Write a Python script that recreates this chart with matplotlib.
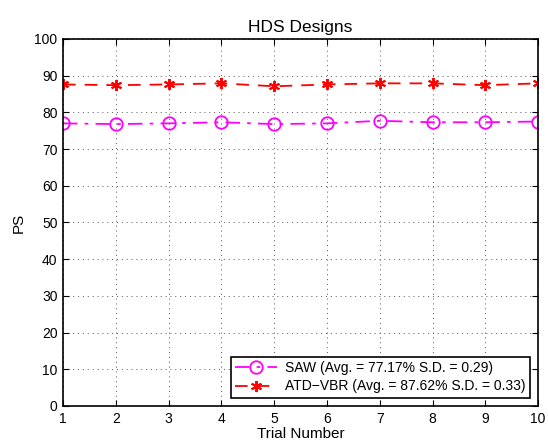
import matplotlib
matplotlib.use("Agg")
import matplotlib.pyplot as plt

plt.rcParams['font.family'] = ['Liberation Sans', 'DejaVu Sans']

trials = [1, 2, 3, 4, 5, 6, 7, 8, 9, 10]
saw = [77.0, 76.8, 77.0, 77.3, 76.8, 77.0, 77.7, 77.3, 77.3, 77.5]
atd_vbr = [87.6, 87.4, 87.6, 87.9, 87.1, 87.6, 87.9, 87.9, 87.4, 87.9]
saw_label = "SAW (Avg. = 77.17% S.D. = 0.29)"
atd_label = "ATD\u2212VBR (Avg. = 87.62% S.D. = 0.33)"

fig = plt.figure(figsize=(5.48, 4.46), dpi=100)
ax = fig.add_axes([0.115, 0.0897, 0.867, 0.823])

ax.plot(trials, saw, color='magenta', linestyle=(0, (8, 4, 2, 4)), marker='o', markersize=9,
        markerfacecolor='none', markeredgewidth=1.3, linewidth=1.3, label=saw_label)
ax.plot(trials, atd_vbr, color='red', linestyle=(0, (7, 5)), marker=(6, 2, 0),
        markersize=8, markeredgewidth=1.4, linewidth=1.3, label=atd_label)

ax.set_xlim(1, 10)
ax.set_ylim(0, 100)
ax.set_xticks(trials)
ax.set_yticks(range(0, 101, 10))
ax.grid(True, linestyle=(0, (1, 4)), color='#555555', linewidth=0.7)
ax.tick_params(direction='in', labelsize=10, top=True, right=True, length=4, pad=4)
for s in ax.spines.values():
    s.set_linewidth(1.2)

ax.set_title("HDS Designs", fontsize=12.5, pad=5)
ax.set_xlabel("Trial Number", fontsize=11, labelpad=1)
ax.set_ylabel("PS", fontsize=11, labelpad=6)

leg = ax.legend(loc='lower right', fontsize=10, fancybox=False, framealpha=1,
                edgecolor='black', borderaxespad=0.6, handlelength=3.0,
                borderpad=0.3, labelspacing=0.3, handletextpad=0.6)
leg.get_frame().set_linewidth(1.2)

fig.savefig("out.png", dpi=100)
